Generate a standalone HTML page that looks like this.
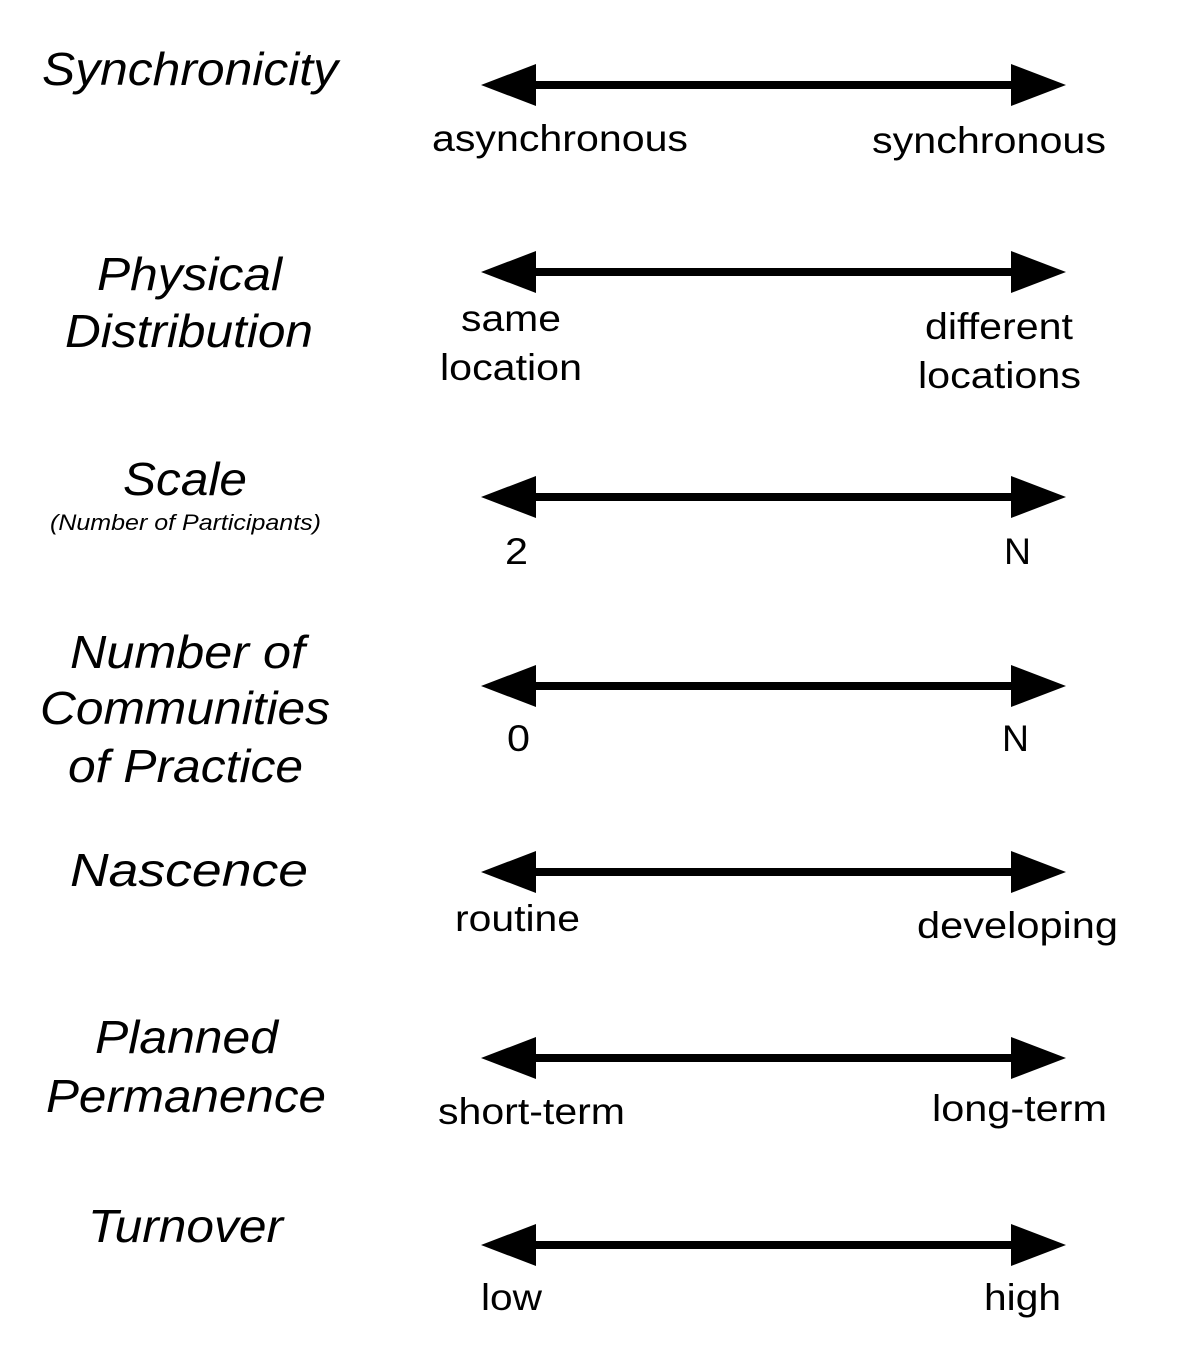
<!DOCTYPE html>
<html><head><meta charset="utf-8"><style>
html,body{margin:0;padding:0;background:#fff}
svg{display:block}
text{font-family:"Liberation Sans",sans-serif;fill:#000}
.t{font-style:italic;font-size:46px}
.l{font-size:37px}
</style></head><body>
<svg width="1188" height="1366" viewBox="0 0 1188 1366">
<g id="arrows"></g>
<g>
<text class="t" x="42" y="85" textLength="296" lengthAdjust="spacingAndGlyphs">Synchronicity</text>
<text class="t" x="97" y="290" textLength="185" lengthAdjust="spacingAndGlyphs">Physical</text>
<text class="t" x="65" y="347" textLength="248" lengthAdjust="spacingAndGlyphs">Distribution</text>
<text class="t" x="123" y="495" textLength="124" lengthAdjust="spacingAndGlyphs">Scale</text>
<text x="50" y="530" style="font-style:italic;font-size:22px" textLength="271" lengthAdjust="spacingAndGlyphs">(Number of Participants)</text>
<text class="t" x="70" y="668" textLength="235" lengthAdjust="spacingAndGlyphs">Number of</text>
<text class="t" x="40" y="724" textLength="290" lengthAdjust="spacingAndGlyphs">Communities</text>
<text class="t" x="68" y="782" textLength="235" lengthAdjust="spacingAndGlyphs">of Practice</text>
<text class="t" x="70" y="886" textLength="238" lengthAdjust="spacingAndGlyphs">Nascence</text>
<text class="t" x="95" y="1053" textLength="183" lengthAdjust="spacingAndGlyphs">Planned</text>
<text class="t" x="46" y="1112" textLength="280" lengthAdjust="spacingAndGlyphs">Permanence</text>
<text class="t" x="88" y="1242" textLength="195" lengthAdjust="spacingAndGlyphs">Turnover</text>
</g>
<g>
<text class="l" x="432" y="151" textLength="256" lengthAdjust="spacingAndGlyphs">asynchronous</text>
<text class="l" x="872" y="153" textLength="234" lengthAdjust="spacingAndGlyphs">synchronous</text>
<text class="l" x="461" y="331" textLength="100" lengthAdjust="spacingAndGlyphs">same</text>
<text class="l" x="440" y="380" textLength="142" lengthAdjust="spacingAndGlyphs">location</text>
<text class="l" x="925" y="339" textLength="148" lengthAdjust="spacingAndGlyphs">different</text>
<text class="l" x="918" y="388" textLength="163" lengthAdjust="spacingAndGlyphs">locations</text>
<text class="l" x="505" y="564" textLength="23" lengthAdjust="spacingAndGlyphs">2</text>
<text class="l" x="1004" y="564" textLength="27" lengthAdjust="spacingAndGlyphs">N</text>
<text class="l" x="507" y="751" textLength="23" lengthAdjust="spacingAndGlyphs">0</text>
<text class="l" x="1002" y="751" textLength="27" lengthAdjust="spacingAndGlyphs">N</text>
<text class="l" x="455" y="931" textLength="125" lengthAdjust="spacingAndGlyphs">routine</text>
<text class="l" x="917" y="938" textLength="201" lengthAdjust="spacingAndGlyphs">developing</text>
<text class="l" x="438" y="1124" textLength="187" lengthAdjust="spacingAndGlyphs">short-term</text>
<text class="l" x="932" y="1121" textLength="175" lengthAdjust="spacingAndGlyphs">long-term</text>
<text class="l" x="481" y="1310" textLength="61" lengthAdjust="spacingAndGlyphs">low</text>
<text class="l" x="984" y="1310" textLength="77" lengthAdjust="spacingAndGlyphs">high</text>
</g>
</svg>
<script>
const arrowNames = ['synchronicity','physical-distribution','scale','communities-of-practice','nascence','planned-permanence','turnover'];
const arrowY = [85, 272, 497, 686, 872, 1058, 1245];
const g = document.getElementById('arrows');
const NS = 'http://www.w3.org/2000/svg';
const x0 = 481, x1 = 1066, head = 55, hh = 21, sw = 8;
arrowY.forEach((y, i) => {
  const grp = document.createElementNS(NS, 'g');
  
  
  const line = document.createElementNS(NS, 'rect');
  line.setAttribute('x', x0 + head - 2);
  line.setAttribute('y', y - sw / 2);
  line.setAttribute('width', x1 - x0 - 2 * head + 4);
  line.setAttribute('height', sw);
  line.setAttribute('fill', '#000');
  grp.appendChild(line);
  const lh = document.createElementNS(NS, 'polygon');
  lh.setAttribute('points', `${x0},${y} ${x0 + head},${y - hh} ${x0 + head},${y + hh}`);
  lh.setAttribute('fill', '#000');
  grp.appendChild(lh);
  const rh = document.createElementNS(NS, 'polygon');
  rh.setAttribute('points', `${x1},${y} ${x1 - head},${y - hh} ${x1 - head},${y + hh}`);
  rh.setAttribute('fill', '#000');
  grp.appendChild(rh);
  g.appendChild(grp);
});
</script>
</body></html>
